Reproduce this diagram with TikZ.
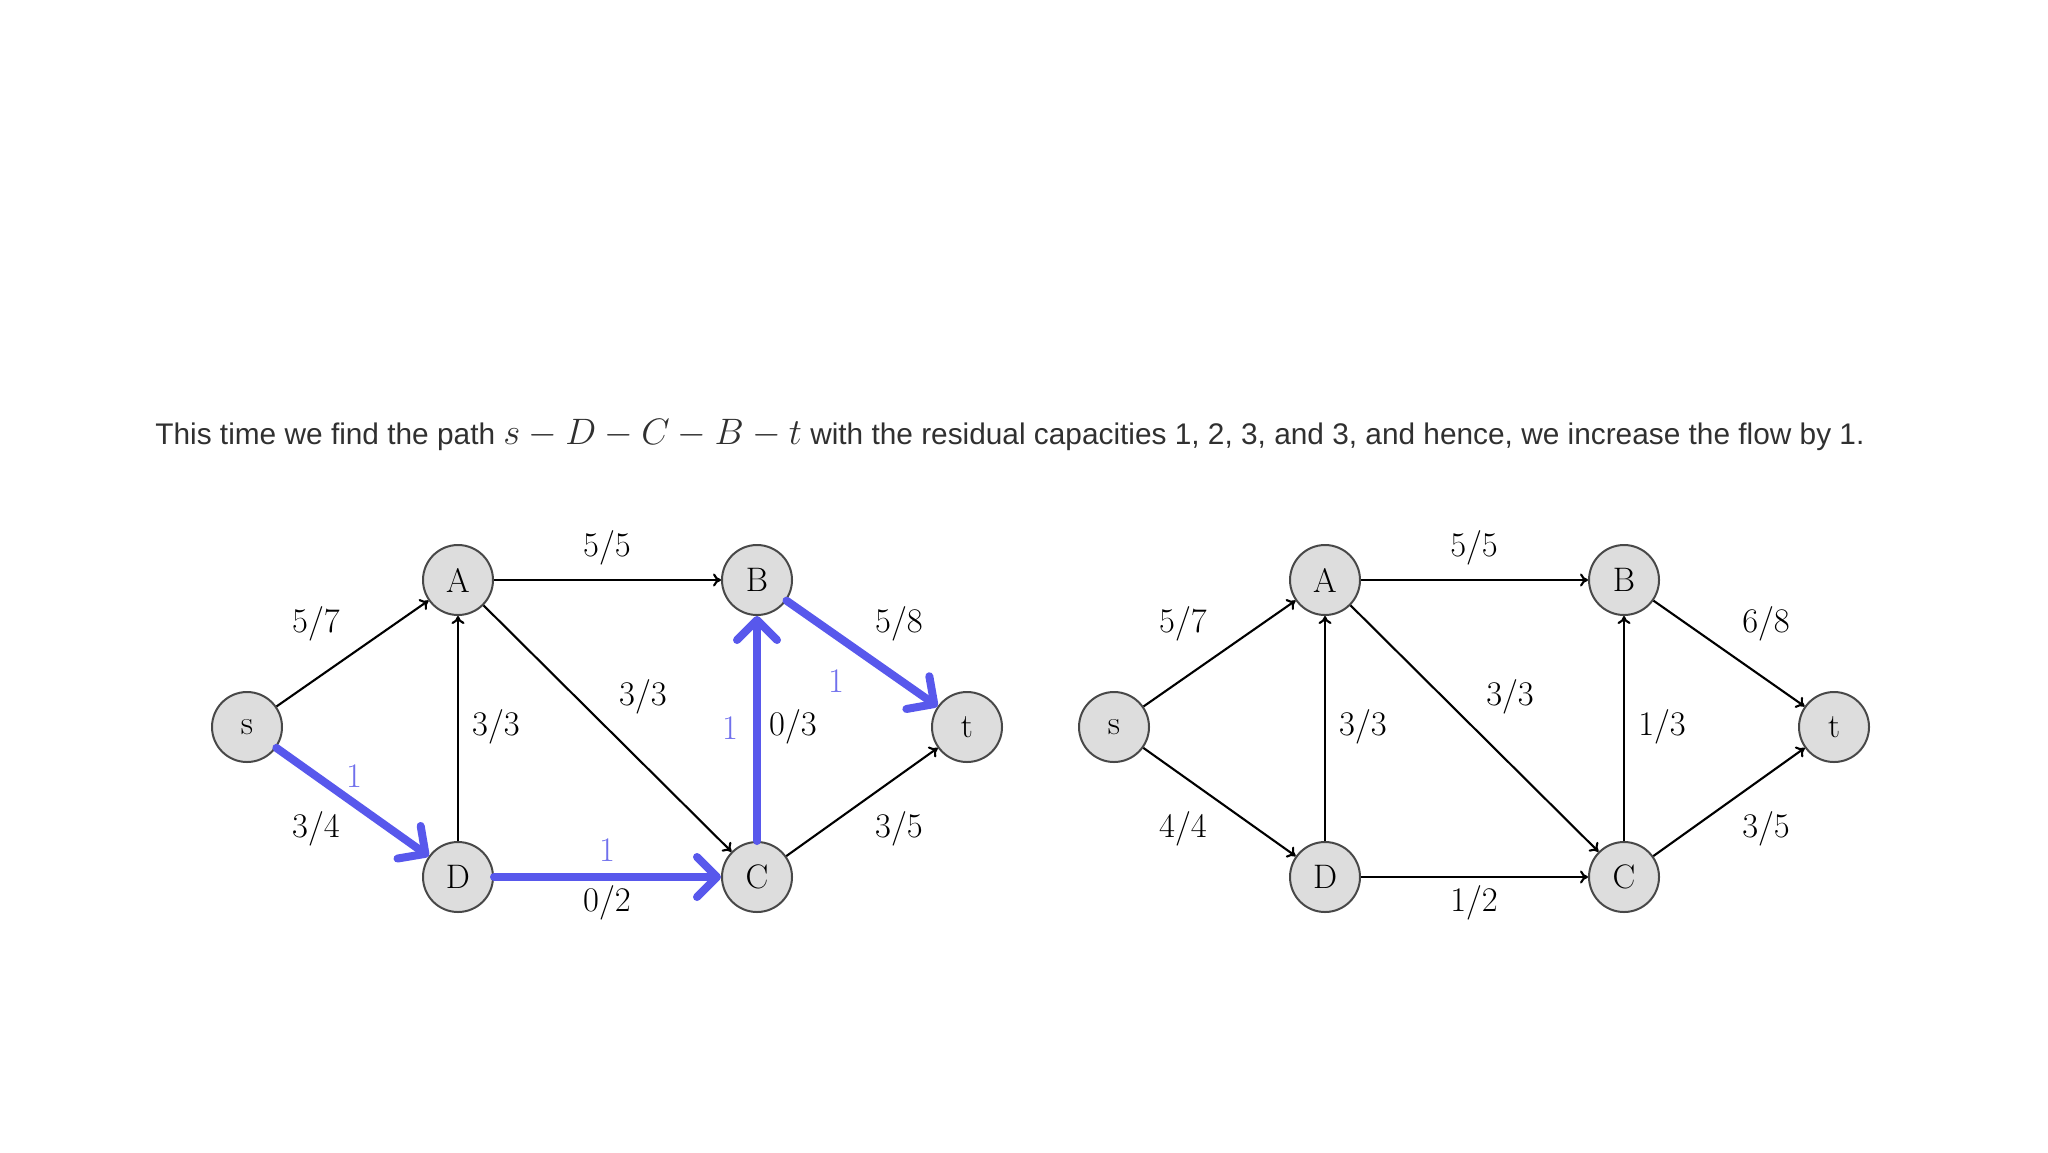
\documentclass[tikz,border=0pt]{standalone}
\usepackage{fontspec}
\newfontfamily\bodyfont{Liberation Sans}
\usetikzlibrary{arrows.meta}
\definecolor{nodefill}{HTML}{DDDDDD}
\definecolor{nodedraw}{HTML}{484848}
\definecolor{pathblue}{RGB}{88,88,236}
\definecolor{lblblue}{RGB}{112,112,236}
\definecolor{txt}{HTML}{303030}
\begin{document}
\begin{tikzpicture}[x=0.5pt,y=-0.5pt,
  vert/.style={circle,draw=nodedraw,fill=nodefill,line width=1pt,minimum size=35pt,inner sep=0pt,font=\fontsize{17}{20}\selectfont},
  edge/.style={line width=1.05pt,-{To[length=4pt,width=6.5pt]}},
  bluepath/.style={line width=4pt,pathblue,line cap=round,-{Straight Barb[length=10pt,width=20pt,round]}},
  lbl/.style={font=\fontsize{16.5}{20}\selectfont,inner sep=0pt},
  blbl/.style={lbl,text=lblblue}]
\useasboundingbox (0,0) rectangle (2048,1152);
\node[anchor=base west,inner sep=0pt,text=txt] (caption) at (155,444)
  {\resizebox{854.5pt}{!}{\bodyfont\fontsize{14}{17}\selectfont This time we find the path {\fontsize{16.5}{19}\selectfont$s-D-C-B-t$} with the residual capacities 1, 2, 3, and 3, and hence, we increase the flow by 1.}};
% left graph
\begin{scope}
\node[vert] (s1) at (247,727) {s};
\node[vert] (A1) at (458,580) {A};
\node[vert] (B1) at (757,580) {B};
\node[vert] (t1) at (967,727) {t};
\node[vert] (D1) at (458,877) {D};
\node[vert] (C1) at (757,877) {C};
\draw[edge] (s1) -- (A1);
\draw[edge] (A1) -- (B1);
\draw[edge] (D1) -- (A1);
\draw[edge] (A1) -- (C1);
\draw[edge] (C1) -- (t1);
\draw[bluepath] (s1) -- (D1);
\draw[bluepath] (D1) -- (C1);
\draw[bluepath] (C1) -- (B1);
\draw[bluepath] (B1) -- (t1);
\node[lbl] (l1) at (607,548) {$5/5$};
\node[lbl] (l2) at (316,624) {$5/7$};
\node[lbl] (l3) at (496,727) {$3/3$};
\node[lbl] (l4) at (643,697) {$3/3$};
\node[lbl] (l5) at (899,624) {$5/8$};
\node[lbl] (l6) at (793,727) {$0/3$};
\node[lbl] (l7) at (316,829) {$3/4$};
\node[lbl] (l8) at (607,903) {$0/2$};
\node[lbl] (l9) at (899,829) {$3/5$};
\node[blbl] (b1) at (836,681) {$1$};
\node[blbl] (b2) at (730,728) {$1$};
\node[blbl] (b3) at (354,776) {$1$};
\node[blbl] (b4) at (607,850) {$1$};
\end{scope}
% right graph
\begin{scope}[xshift=867*0.5pt]
\node[vert] (s2) at (247,727) {s};
\node[vert] (A2) at (458,580) {A};
\node[vert] (B2) at (757,580) {B};
\node[vert] (t2) at (967,727) {t};
\node[vert] (D2) at (458,877) {D};
\node[vert] (C2) at (757,877) {C};
\draw[edge] (s2) -- (A2);
\draw[edge] (s2) -- (D2);
\draw[edge] (A2) -- (B2);
\draw[edge] (D2) -- (A2);
\draw[edge] (A2) -- (C2);
\draw[edge] (D2) -- (C2);
\draw[edge] (C2) -- (B2);
\draw[edge] (B2) -- (t2);
\draw[edge] (C2) -- (t2);
\node[lbl] (r1) at (607,548) {$5/5$};
\node[lbl] (r2) at (316,624) {$5/7$};
\node[lbl] (r3) at (496,727) {$3/3$};
\node[lbl] (r4) at (643,697) {$3/3$};
\node[lbl] (r5) at (899,624) {$6/8$};
\node[lbl] (r6) at (795,727) {$1/3$};
\node[lbl] (r7) at (316,829) {$4/4$};
\node[lbl] (r8) at (607,903) {$1/2$};
\node[lbl] (r9) at (899,829) {$3/5$};
\end{scope}
\end{tikzpicture}
\end{document}
